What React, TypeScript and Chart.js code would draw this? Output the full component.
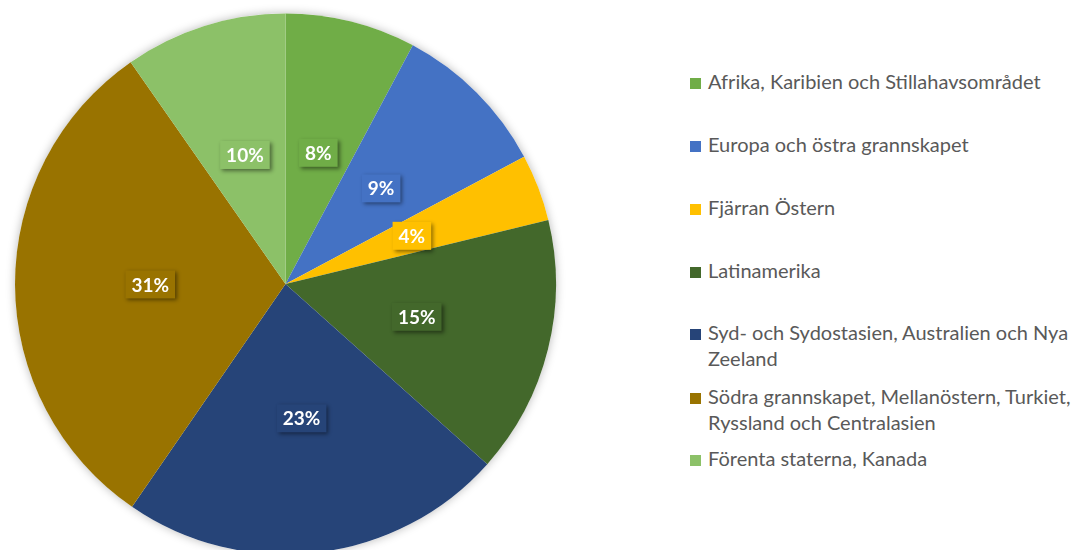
import React, { useEffect, useRef } from "react";
import { Chart, registerables } from "chart.js";

Chart.register(...registerables);

const categories = [
  "Afrika, Karibien och Stillahavsområdet",
  "Europa och östra grannskapet",
  "Fjärran Östern",
  "Latinamerika",
  "Syd- och Sydostasien, Australien och Nya Zeeland",
  "Södra grannskapet, Mellanöstern, Turkiet, Ryssland och Centralasien",
  "Förenta staterna, Kanada",
];
const shares = [7.8, 9.4, 4.0, 15.4, 23.0, 30.7, 9.7];
const colors = ["#70AD47", "#4472C4", "#FFC000", "#43682B", "#264478", "#997300", "#8CC168"];

const legendCenters = [82.5, 146, 208.5, 271.5, 334, 398, 459.5];

const shadowPlugin = {
  id: "pieShadow",
  beforeDatasetsDraw(chart: any) {
    const meta = chart.getDatasetMeta(0);
    const arc = meta.data[0];
    if (!arc) return;
    const { x, y, outerRadius } = arc.getProps(["x", "y", "outerRadius"], true);
    const ctx = chart.ctx;
    ctx.save();
    ctx.shadowColor = "rgba(0,0,0,0.28)";
    ctx.shadowBlur = 10;
    ctx.beginPath();
    ctx.arc(x, y, outerRadius, 0, Math.PI * 2);
    ctx.fillStyle = "#ffffff";
    ctx.fill();
    ctx.restore();
  },
};

const labelPlugin = {
  id: "boxLabels",
  afterDatasetsDraw(chart: any) {
    const ctx = chart.ctx;
    const meta = chart.getDatasetMeta(0);
    const data = chart.data.datasets[0].data as number[];
    const total = data.reduce((a, b) => a + b, 0);
    meta.data.forEach((arc: any, i: number) => {
      const pos = arc.tooltipPosition(true);
      const text = Math.round((data[i] / total) * 100) + "%";
      ctx.save();
      ctx.font = "bold 19px Lato";
      const tw = ctx.measureText(text).width;
      const w = tw + 12;
      const h = 28;
      const bx = pos.x - w / 2;
      const by = pos.y - h / 2;
      ctx.shadowColor = "rgba(0,0,0,0.45)";
      ctx.shadowBlur = 4;
      ctx.shadowOffsetX = 2;
      ctx.shadowOffsetY = 2;
      ctx.fillStyle = colors[i];
      ctx.fillRect(bx, by, w, h);
      ctx.shadowColor = "transparent";
      ctx.fillStyle = "#ffffff";
      ctx.textAlign = "center";
      ctx.textBaseline = "middle";
      ctx.fillText(text, pos.x, pos.y + 1);
      ctx.restore();
    });
  },
};

export default function App() {
  const ref = useRef<HTMLCanvasElement | null>(null);
  useEffect(() => {
    if (!ref.current) return;
    const chart = new Chart(ref.current, {
      type: "pie",
      data: {
        labels: categories,
        datasets: [
          {
            data: shares,
            backgroundColor: colors,
            borderWidth: 0,
            hoverOffset: 0,
            offset: 0,
          },
        ],
      },
      options: {
        animation: false,
        responsive: false,
        maintainAspectRatio: false,
        layout: { padding: { left: 15, right: 15, top: 13.5, bottom: 13.5 } },
        plugins: {
          legend: { display: false },
          tooltip: { enabled: false },
        },
        events: [],
      },
      plugins: [shadowPlugin, labelPlugin],
    });
    return () => chart.destroy();
  }, []);

  return (
    <div
      style={{
        position: "fixed",
        left: 0,
        top: 0,
        width: 1078,
        height: 550,
        overflow: "hidden",
        background: "#ffffff",
      }}
    >
      <canvas
        ref={ref}
        width={571}
        height={568}
        style={{ position: "absolute", left: 0, top: 0, width: 571, height: 568 }}
      />
      {categories.map((c, i) => (
        <div
          key={c}
          style={{
            position: "absolute",
            left: 690,
            top: legendCenters[i] - 15,
            width: 388,
            display: "flex",
            alignItems: "flex-start",
            fontFamily: "Lato, sans-serif",
            fontSize: 20,
            lineHeight: "26px",
            color: "#595959",
          }}
        >
          <span
            style={{
              display: "inline-block",
              width: 11,
              height: 11,
              marginTop: 10,
              marginRight: 7,
              background: colors[i],
              flex: "0 0 auto",
            }}
          />
          <span style={{ flex: "1 1 auto" }}>{c}</span>
        </div>
      ))}
    </div>
  );
}
